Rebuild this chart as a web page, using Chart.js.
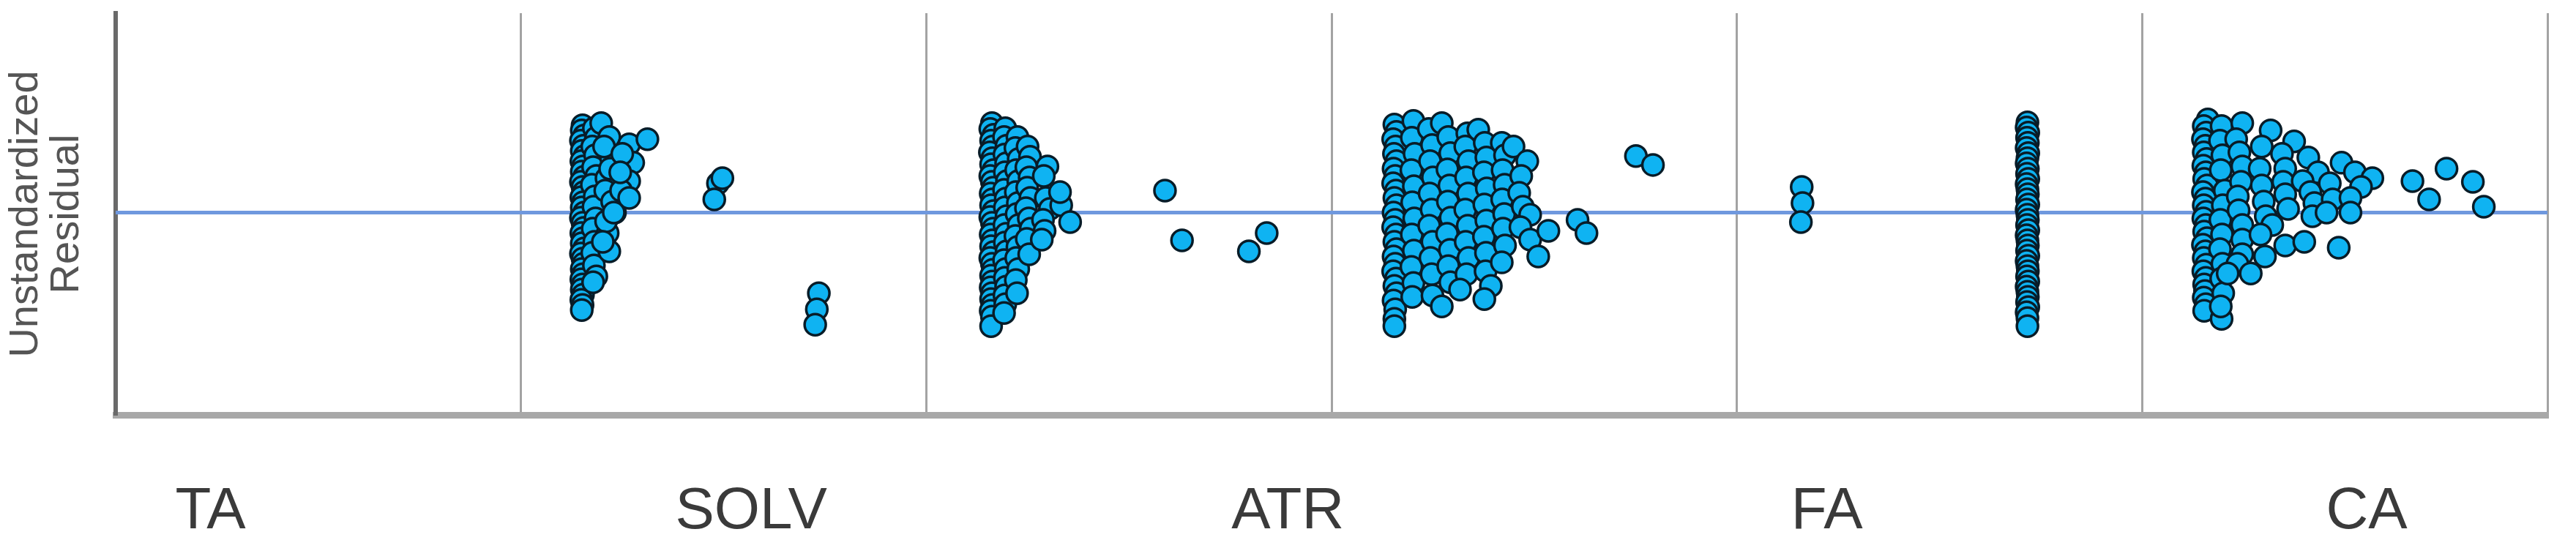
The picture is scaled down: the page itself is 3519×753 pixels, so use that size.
<!DOCTYPE html>
<html>
<head>
<meta charset="utf-8">
<title>Unstandardized Residual</title>
<script src="https://cdn.jsdelivr.net/npm/chart.js@4.4.1/dist/chart.umd.min.js"></script>
<style>
  html, body { margin: 0; padding: 0; background: #fff; }
  #wrap { width: 3519px; height: 753px; }
</style>
</head>
<body>
<div id="wrap"><canvas id="resChart" width="3519" height="753"></canvas></div>
<script>
// category labels under the axis and where they sit (x units, 10 per panel)
var tickLabels = ['TA', 'SOLV', 'ATR', 'FA', 'CA'];
var tickPos = [2.34, 15.68, 28.92, 42.22, 55.54];

// residuals, [x, residual]
var solvPts = [
  [11.52,1.19],[11.50,1.12],[11.56,1.05],[11.48,0.98],[11.54,0.91],[11.50,0.84],[11.57,0.77],[11.49,0.70],
  [11.53,0.63],[11.50,0.56],[11.56,0.49],[11.48,0.42],[11.52,0.35],[11.55,0.28],[11.49,0.21],[11.53,0.14],
  [11.50,0.07],[11.56,0.00],[11.48,-0.07],[11.52,-0.14],[11.55,-0.21],[11.49,-0.28],[11.53,-0.35],[11.50,-0.42],
  [11.56,-0.49],[11.48,-0.56],[11.52,-0.63],[11.54,-0.70],[11.50,-0.77],[11.53,-0.84],[11.49,-0.91],[11.52,-0.98],
  [11.50,-1.05],[11.53,-1.12],[11.49,-1.19],[11.52,-1.26],[11.50,-1.33],
  [11.80,1.15],[11.85,1.02],[11.76,0.90],[11.83,0.78],[11.78,0.62],[11.86,0.50],[11.75,0.38],[11.82,0.22],
  [11.79,0.08],[11.84,-0.08],[11.77,-0.22],[11.81,-0.40],[11.76,-0.55],[11.80,-0.72],[11.86,-0.87],[11.78,-0.95],
  [11.98,1.22],[12.18,1.03],[12.22,0.75],[12.11,0.47],[12.32,0.00],[12.14,-0.28],[12.18,-0.53],[12.05,0.90],
  [12.20,0.60],[12.08,0.30],[12.25,0.15],[12.10,-0.12],[12.02,-0.40],
  [12.67,0.93],[12.77,0.68],[12.67,0.43],[12.47,0.30],[12.67,0.20],[12.29,0.00],[12.50,0.80],[12.45,0.55],
  [13.12,1.00],
  [14.86,0.40],[14.77,0.18],[14.97,0.47],
  [17.35,-1.10],[17.30,-1.32],[17.26,-1.53]
];

var atrPts = [
  [21.62,1.22],[21.58,1.14],[21.66,1.06],[21.60,0.98],[21.64,0.90],[21.57,0.82],[21.63,0.74],[21.60,0.66],
  [21.66,0.58],[21.58,0.50],[21.62,0.42],[21.65,0.34],[21.59,0.26],[21.63,0.18],[21.60,0.10],[21.66,0.02],
  [21.58,-0.06],[21.62,-0.14],[21.65,-0.22],[21.59,-0.30],[21.63,-0.38],[21.60,-0.46],[21.66,-0.54],[21.58,-0.62],
  [21.62,-0.70],[21.64,-0.78],[21.60,-0.86],[21.63,-0.94],[21.59,-1.02],[21.62,-1.10],[21.60,-1.18],[21.63,-1.26],
  [21.59,-1.34],[21.62,-1.42],[21.60,-1.55],
  [21.95,1.15],[21.92,1.03],[21.98,0.91],[21.93,0.79],[21.97,0.67],[21.94,0.55],[21.99,0.43],[21.92,0.31],
  [21.96,0.19],[21.94,0.07],[21.98,-0.05],[21.93,-0.17],[21.97,-0.29],[21.94,-0.41],[21.98,-0.53],[21.92,-0.65],
  [21.96,-0.77],[21.94,-0.89],[21.97,-1.01],[21.93,-1.13],[21.95,-1.25],[21.92,-1.37],
  [22.25,1.03],[22.20,0.88],[22.28,0.73],[22.22,0.58],[22.27,0.43],[22.21,0.28],[22.26,0.13],[22.23,-0.02],
  [22.28,-0.17],[22.20,-0.32],[22.25,-0.47],[22.22,-0.62],[22.27,-0.77],[22.21,-0.92],[22.24,-1.10],
  [22.50,0.90],[22.56,0.76],[22.47,0.62],[22.55,0.48],[22.49,0.34],[22.57,0.20],[22.46,0.06],[22.53,-0.08],
  [22.58,-0.22],[22.48,-0.36],[22.54,-0.57],
  [22.99,0.63],[22.90,0.50],[22.95,0.20],[23.05,0.05],[22.88,-0.10],[22.92,-0.25],[22.85,-0.37],
  [23.33,0.10],[23.55,-0.13],[23.30,0.28],
  [25.89,0.30],[26.31,-0.38],[27.96,-0.53],[28.40,-0.28]
];

var atr2Pts = [
  [31.55,1.20],[31.60,1.10],[31.52,1.00],[31.58,0.90],[31.54,0.80],[31.60,0.70],[31.53,0.60],[31.57,0.50],
  [31.52,0.40],[31.59,0.30],[31.55,0.20],[31.60,0.10],[31.53,0.00],[31.57,-0.10],[31.52,-0.20],[31.59,-0.30],
  [31.55,-0.40],[31.60,-0.50],[31.53,-0.60],[31.57,-0.70],[31.52,-0.80],[31.59,-0.90],[31.55,-1.00],[31.60,-1.10],
  [31.53,-1.20],[31.57,-1.32],[31.55,-1.45],[31.55,-1.55],
  [32.02,1.25],[31.98,1.02],[32.05,0.80],[31.97,0.58],[32.03,0.36],[31.99,0.14],[32.04,-0.08],[31.98,-0.30],
  [32.03,-0.52],[31.97,-0.74],[32.02,-0.96],[31.99,-1.15],
  [32.40,1.14],[32.48,0.92],[32.43,0.70],[32.50,0.48],[32.42,0.26],[32.47,0.04],[32.41,-0.18],[32.49,-0.40],
  [32.44,-0.62],[32.47,-0.84],[32.49,-1.13],
  [32.72,1.22],[32.88,1.03],[32.93,0.81],[32.86,0.59],[32.91,0.37],[32.87,0.15],[32.94,-0.07],[32.85,-0.29],
  [32.92,-0.51],[32.88,-0.73],[32.93,-0.95],[32.72,-1.28],
  [33.35,1.08],[33.30,0.90],[33.38,0.70],[33.32,0.48],[33.37,0.26],[33.30,0.04],[33.36,-0.18],[33.31,-0.40],
  [33.38,-0.62],[33.33,-0.84],[33.17,-1.05],
  [33.62,1.13],[33.78,0.95],[33.82,0.75],[33.76,0.55],[33.83,0.33],[33.77,0.11],[33.82,-0.11],[33.76,-0.33],
  [33.81,-0.55],[33.80,-0.80],[33.93,-1.00],[33.77,-1.18],
  [34.20,0.95],[34.28,0.78],[34.22,0.58],[34.27,0.38],[34.21,0.18],[34.26,-0.02],[34.23,-0.22],[34.28,-0.45],
  [34.20,-0.68],
  [34.49,0.90],[34.83,0.70],[34.68,0.50],[34.63,0.27],[34.72,0.08],[34.90,-0.03],[34.66,-0.20],[34.90,-0.37],
  [35.10,-0.60],[35.35,-0.25],
  [36.07,-0.10],[36.29,-0.28],[37.51,0.77],[37.93,0.65]
];

var faPts = [
  [41.60,0.35],[41.62,0.13],[41.58,-0.13],
  [47.17,1.23],[47.15,1.16],[47.19,1.09],[47.16,1.02],[47.18,0.95],[47.15,0.88],[47.19,0.81],[47.17,0.74],
  [47.15,0.67],[47.18,0.60],[47.16,0.53],[47.19,0.46],[47.15,0.39],[47.17,0.32],[47.18,0.25],[47.16,0.18],
  [47.19,0.11],[47.15,0.04],[47.17,-0.03],[47.18,-0.10],[47.16,-0.17],[47.19,-0.24],[47.15,-0.31],[47.17,-0.38],
  [47.18,-0.45],[47.16,-0.52],[47.19,-0.59],[47.15,-0.66],[47.17,-0.73],[47.18,-0.80],[47.16,-0.87],[47.19,-0.94],
  [47.15,-1.01],[47.17,-1.08],[47.18,-1.15],[47.16,-1.22],[47.19,-1.29],[47.15,-1.36],[47.17,-1.44],[47.17,-1.55]
];

var caPts = [
  [51.62,1.27],[51.52,1.18],[51.58,1.09],[51.50,1.00],[51.56,0.91],[51.52,0.82],[51.59,0.73],[51.51,0.64],
  [51.57,0.55],[51.53,0.46],[51.60,0.37],[51.50,0.28],[51.56,0.19],[51.52,0.10],[51.58,0.01],[51.51,-0.08],
  [51.57,-0.17],[51.53,-0.26],[51.60,-0.35],[51.50,-0.44],[51.56,-0.53],[51.52,-0.62],[51.58,-0.71],[51.51,-0.80],
  [51.57,-0.89],[51.53,-0.98],[51.55,-1.07],[51.52,-1.16],[51.57,-1.25],[51.53,-1.34],[51.96,-1.45],
  [51.96,1.18],[51.92,0.98],[51.98,0.78],[51.94,0.58],[52.04,0.30],[51.99,0.10],[51.93,-0.10],[51.97,-0.30],
  [51.92,-0.50],[51.98,-0.70],[51.95,-0.90],[52.00,-1.10],[51.94,-1.28],
  [52.47,1.22],[52.32,1.00],[52.40,0.82],[52.47,0.63],[52.44,0.42],[52.36,0.22],[52.38,0.03],[52.47,-0.17],
  [52.47,-0.37],[52.47,-0.57],[52.35,-0.70],[52.11,-0.83],[52.68,-0.83],
  [53.17,1.12],[52.95,0.90],[52.90,0.60],[52.95,0.37],[53.00,0.15],[53.05,-0.05],[53.21,-0.17],[52.92,-0.30],
  [53.03,-0.60],
  [53.75,0.97],[53.45,0.80],[53.53,0.60],[53.48,0.42],[53.53,0.25],[53.60,0.05],[53.53,-0.45],
  [54.10,0.75],[54.34,0.55],[53.96,0.43],[54.15,0.28],[54.25,0.13],[54.20,-0.05],[54.00,-0.40],
  [54.92,0.68],[54.63,0.40],[54.70,0.18],[54.55,0.00],[54.85,-0.48],
  [55.25,0.55],[55.68,0.47],[55.40,0.35],[55.14,0.20],[55.14,0.00],
  [56.67,0.43],[57.08,0.18],[57.51,0.60],[58.16,0.42],[58.43,0.08]
];

var fitLine = [[0, 0], [60, 0]];

function toXY(arr) {
  return arr.map(function (p) { return { x: p[0], y: p[1] }; });
}

var allPts = [].concat(solvPts, atrPts, atr2Pts, faPts, caPts);
var fontFam = "'Liberation Sans', Arial, sans-serif";

var ctx = document.getElementById('resChart').getContext('2d');
var resChart = new Chart(ctx, {
  type: 'scatter',
  data: {
    datasets: [
      {
        label: 'Residual',
        data: toXY(allPts),
        backgroundColor: '#0fb3f2',
        borderColor: '#081c28',
        borderWidth: 3.5,
        pointRadius: 14.5,
        order: 1
      },
      {
        // zero line
        type: 'line',
        label: 'Fit',
        data: toXY(fitLine),
        borderColor: '#6f98de',
        borderWidth: 5,
        pointRadius: 0,
        fill: false,
        order: 2
      }
    ]
  },
  options: {
    responsive: false,
    animation: false,
    devicePixelRatio: 1,
    layout: { padding: { left: 8, right: 39, top: 18, bottom: 0 } },
    plugins: {
      legend: { display: false },
      tooltip: { enabled: false }
    },
    scales: {
      x: {
        type: 'linear',
        min: 0,
        max: 60,
        position: 'bottom',
        ticks: { display: false, stepSize: 10 },
        grid: { color: '#a3a3a3', lineWidth: 3, drawTicks: false },
        border: { color: '#a8a8a8', width: 9 }
      },
      xLabels: {
        type: 'linear',
        min: 0,
        max: 60,
        position: 'bottom',
        // invisible tick marks push the labels down
        grid: { display: false, drawTicks: true, tickLength: 80, tickColor: 'rgba(0,0,0,0)' },
        border: { display: false },
        afterBuildTicks: function (axis) {
          axis.ticks = tickPos.map(function (v) { return { value: v }; });
        },
        ticks: {
          autoSkip: false,
          maxRotation: 0,
          padding: 5,
          color: '#3a3a3a',
          font: { family: fontFam, size: 80, lineHeight: 1.2 },
          callback: function (value, index) { return tickLabels[index]; }
        }
      },
      y: {
        min: -2.76,
        max: 2.72,
        ticks: { display: false },
        grid: { display: false },
        border: { color: '#6a6a6a', width: 6 },
        title: {
          display: true,
          text: ['Unstandardized', 'Residual'],
          color: '#555555',
          font: { family: fontFam, size: 56, lineHeight: 1.0 },
          padding: { top: 0, bottom: 30 }
        }
      }
    }
  }
});
</script>
</body>
</html>
